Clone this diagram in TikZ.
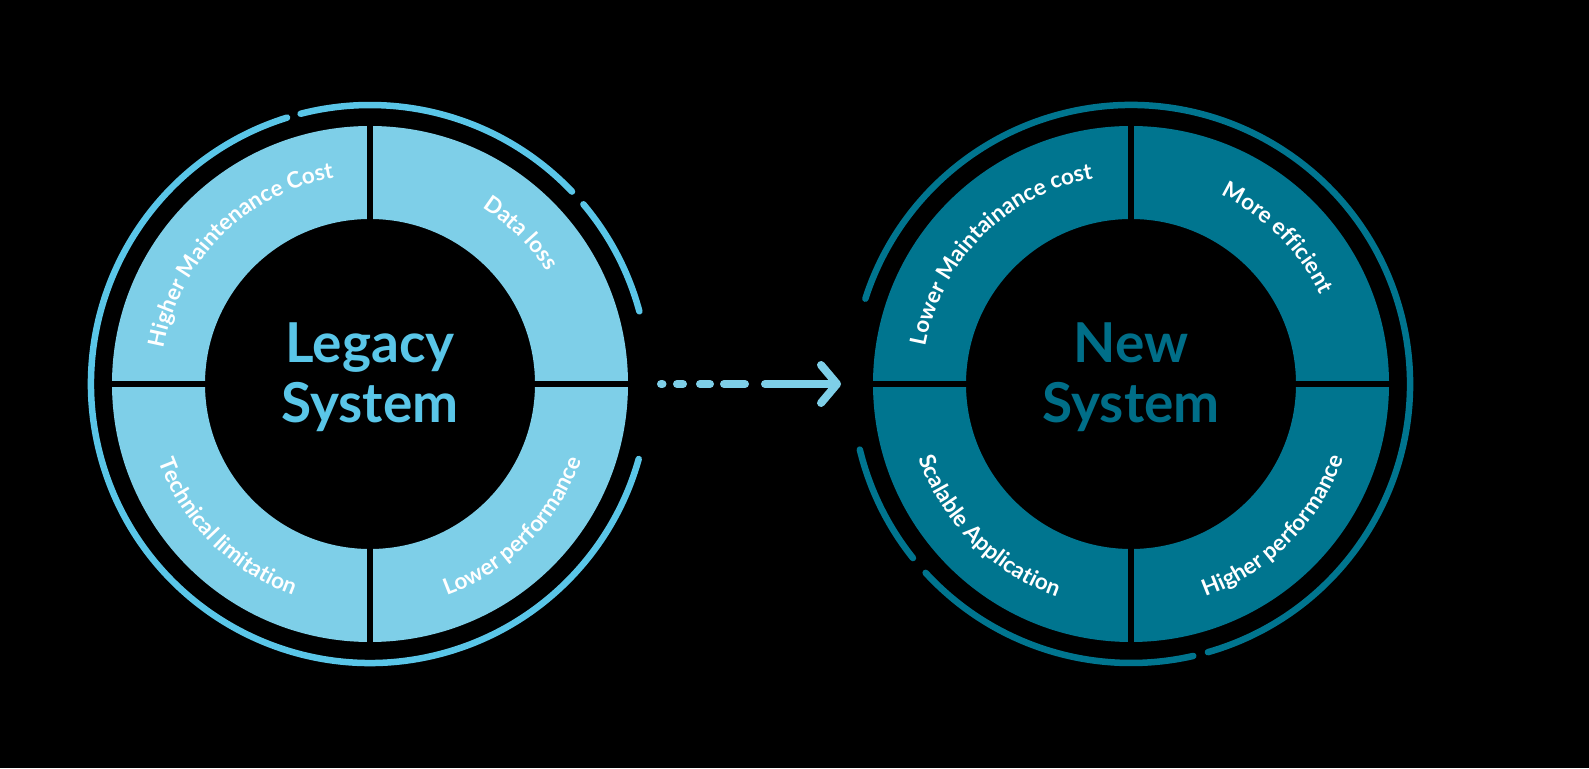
\documentclass[tikz,border=0pt]{standalone}
\usepackage{fontspec}
\setmainfont{Lato}
\usetikzlibrary{arrows.meta,decorations.text}

\definecolor{legacyfill}{RGB}{126,207,232}
\definecolor{legacyline}{RGB}{90,198,232}
\definecolor{newfill}{RGB}{0,117,143}
\definecolor{newtitle}{RGB}{0,110,136}

\newcommand\labelfont{\fontsize{22.5}{22.5}\selectfont\bfseries}

\tikzset{
  ring label/.style={decorate, decoration={text along path, text align=center,
      text color=white, text={|\labelfont|#1}}}
}

\begin{document}
\begin{tikzpicture}[
        x=1pt, y=1pt,
        title/.style={font=\fontsize{55}{60}\selectfont\bfseries, align=center, inner sep=0pt},
        gap/.style={line width=6.7, black},
        orbit/.style={line width=6.5, line cap=round},
        flow/.style={line width=8, line cap=round,
            dash pattern=on 1.5 off 14.5 on 6 off 17 on 10 off 14 on 21 off 20 on 300,
            -{Straight Barb[length=16pt, width=38pt, round]}},
    ]

    % fond
    \fill[black] (0,0) rectangle (1589,768);

    \coordinate (legacy) at (370,384);
    \coordinate (new) at (1131,384);

    % anneaux
    \fill[legacyfill, even odd rule] (legacy) circle[radius=258] (legacy) circle[radius=165];
    \fill[newfill, even odd rule] (new) circle[radius=258] (new) circle[radius=165];
    \foreach \c in {legacy, new} {
            \draw[gap] ([xshift=-262]\c) -- ([xshift=262]\c);
            \draw[gap] ([yshift=-262]\c) -- ([yshift=262]\c);
        }

    % arcs exterieurs
    \foreach \a/\b in {107.3/344.4, 43.6/104.4, 15.1/40.1}
    \draw[orbit, legacyline] (legacy) ++(\a:279) arc[start angle=\a, end angle=\b, radius=279];
    \foreach \a/\b in {-74/162.2, -137.4/-77.1, -166.4/-141.4}
    \draw[orbit, newfill] (new) ++(\a:279) arc[start angle=\a, end angle=\b, radius=279];

    % titres
    \node[title, text=legacyline] (legacy title) at ([yshift=7]legacy) {Legacy\\System};
    \node[title, text=newtitle] (new title) at ([yshift=7]new) {New\\System};

    % libelles du haut
    \foreach \c/\ang/\txt in {legacy/135/Higher Maintenance Cost, legacy/45/Data loss,
            new/135/Lower Maintainance cost, new/45/More efficient}
    \path[ring label/.expanded=\txt] (\c) ++(\ang+45:209) arc[start angle=\ang+45, end angle=\ang-45, radius=209];

    % libelles du bas
    \foreach \c/\ang/\txt in {legacy/-135/Technical limitation, legacy/-45/Lower performance,
            new/-135/Scalable Application, new/-45/Higher performance}
    \path[ring label/.expanded=\txt] (\c) ++(\ang-45:225) arc[start angle=\ang-45, end angle=\ang+45, radius=225];

    % fleche
    \draw[flow, legacyfill] ([xshift=291]legacy) -- ([xshift=-290]new);

\end{tikzpicture}
\end{document}
